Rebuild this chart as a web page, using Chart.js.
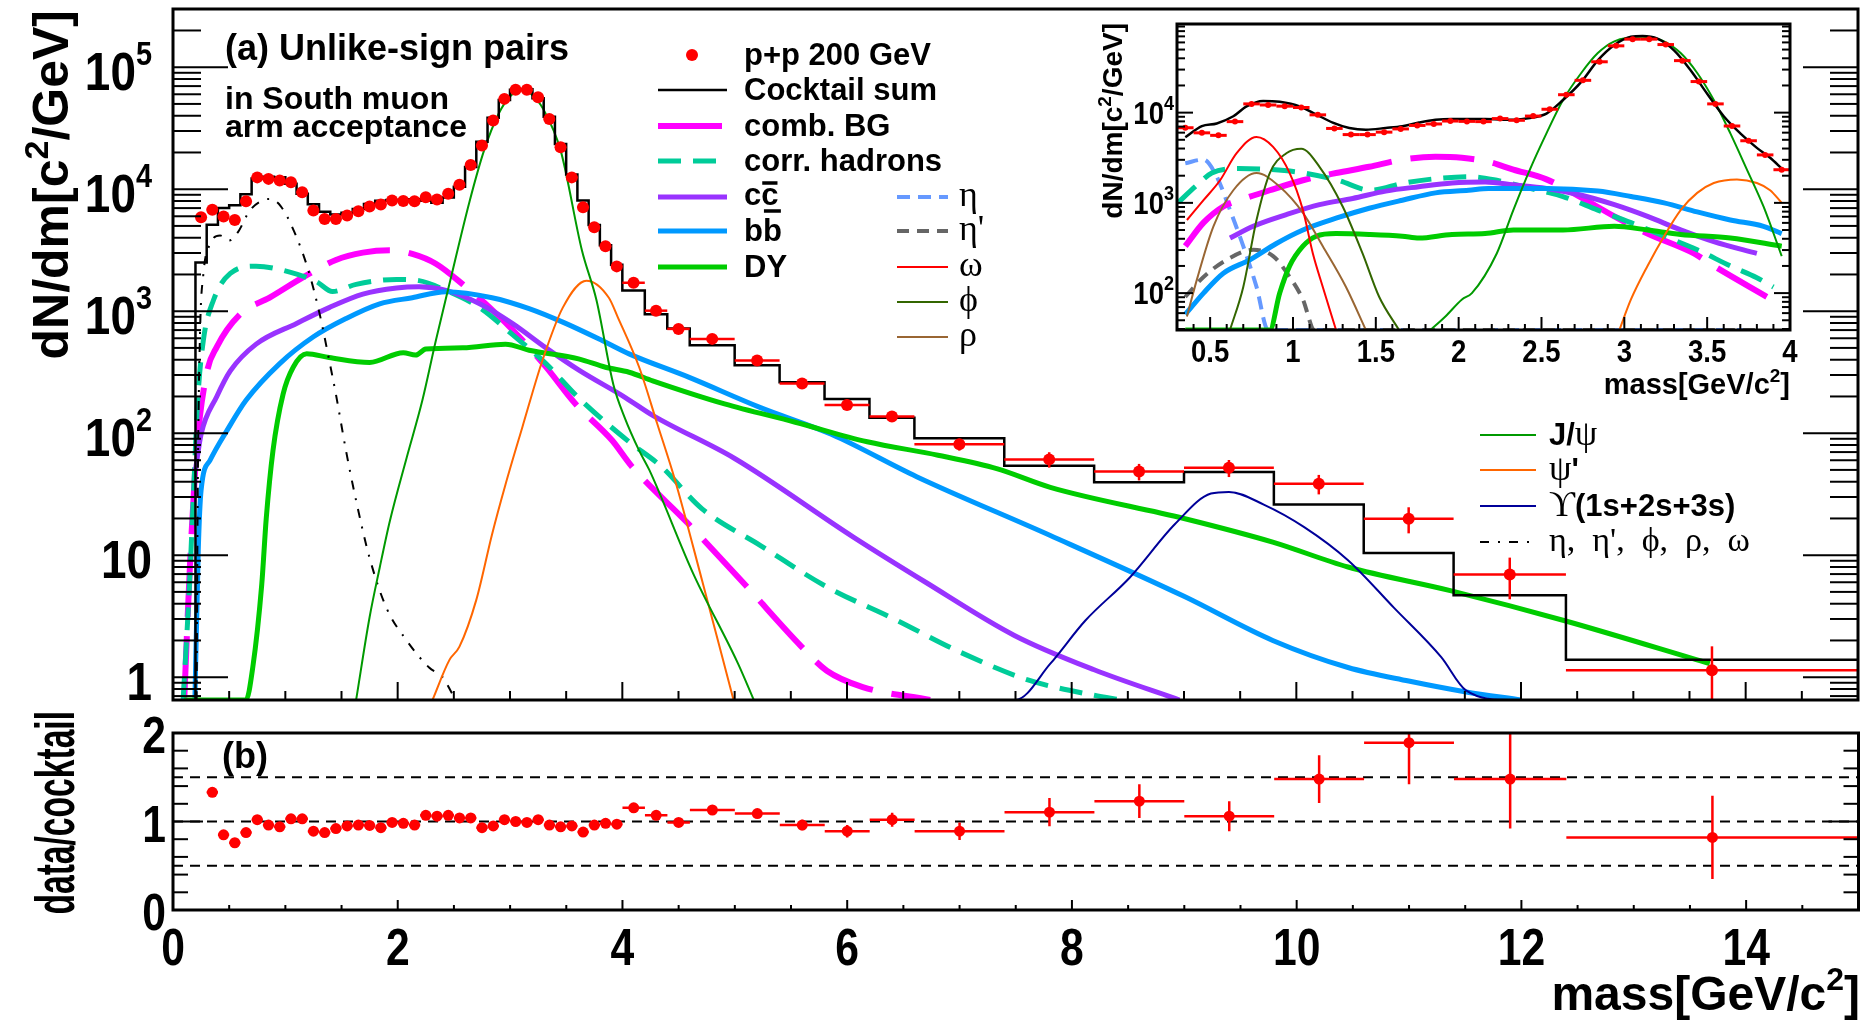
<!DOCTYPE html>
<html>
<head>
<meta charset="utf-8">
<script src="https://cdn.jsdelivr.net/npm/chart.js@4.4.1/dist/chart.umd.min.js"></script>
<style>
  body { margin: 0; background: #fff; }
  canvas { position: absolute; left: 0; top: 0; }
</style>
</head>
<body>
<canvas id="main" width="1864" height="1024"></canvas>
<canvas id="ratio" width="1864" height="1024"></canvas>
<canvas id="inset" width="1864" height="1024"></canvas>
<script>
// Dimuon mass spectrum, p+p 200 GeV, South muon arm, with cocktail and ratio

const SANS = '"Liberation Sans", Arial, sans-serif';
const SERIF = '"Liberation Serif", "DejaVu Serif", serif';
const B = (s) => `bold ${s}px ${SANS}`;
const G = (s) => `${s}px ${SERIF}`;
const RED = "#ff0000";

// measured points: bin centre, half width, yield, error
const dataMass = [0.25, 0.35, 0.45, 0.55, 0.65, 0.75, 0.85, 0.95, 1.05, 1.15, 1.25, 1.35, 1.45, 1.55, 1.65, 1.75, 1.85, 1.95, 2.05, 2.15,
  2.25, 2.35, 2.45, 2.55, 2.65, 2.75, 2.85, 2.95, 3.05, 3.15, 3.25, 3.35, 3.45, 3.55, 3.65, 3.75, 3.85, 3.95,
  4.1, 4.3, 4.5, 4.8, 5.2, 5.6, 6.0, 6.4, 7.0, 7.8, 8.6, 9.4, 10.2, 11.0, 11.9, 13.7];
const dataHalfWidth = [0.05, 0.05, 0.05, 0.05, 0.05, 0.05, 0.05, 0.05, 0.05, 0.05, 0.05, 0.05, 0.05, 0.05, 0.05, 0.05, 0.05, 0.05, 0.05, 0.05,
  0.05, 0.05, 0.05, 0.05, 0.05, 0.05, 0.05, 0.05, 0.05, 0.05, 0.05, 0.05, 0.05, 0.05, 0.05, 0.05, 0.05, 0.05,
  0.1, 0.1, 0.1, 0.2, 0.2, 0.2, 0.2, 0.2, 0.4, 0.4, 0.4, 0.4, 0.4, 0.4, 0.5, 1.3];
const dataYield = [5900, 6800, 5970, 5600, 7950, 12500, 12150, 11800, 11400, 9450, 6680, 5710, 5710, 6080, 6600, 7210, 7490, 8070, 8000, 7950,
  8590, 8220, 9160, 10900, 15800, 22800, 36600, 55000, 65200, 65200, 56800, 37700, 22100, 12500, 7110, 4880, 3400, 2330,
  1710, 1010, 716, 593, 394, 255, 170, 137, 81, 61, 48.5, 52, 38.5, 19.9, 6.95, 1.14];
const dataErr = [120, 130, 120, 110, 150, 220, 210, 200, 200, 170, 120, 100, 100, 110, 120, 130, 130, 140, 140, 140,
  150, 150, 160, 190, 270, 380, 590, 850, 1000, 1000, 880, 600, 360, 210, 130, 100, 80, 60,
  60, 40, 30, 26, 18, 15, 14, 11, 9, 8.8, 7.5, 8.3, 7, 4.8, 2.6, 0.65];

// cocktail sum histogram: bin edges and content
const cocktailEdges = [0.2, 0.3, 0.4, 0.5, 0.6, 0.7, 0.8, 0.9, 1.0, 1.1, 1.2, 1.3, 1.4, 1.5, 1.6, 1.7, 1.8, 1.9, 2.0, 2.1,
  2.2, 2.3, 2.4, 2.5, 2.6, 2.7, 2.8, 2.9, 3.0, 3.1, 3.2, 3.3, 3.4, 3.5, 3.6, 3.7, 3.8, 3.9, 4.0,
  4.2, 4.4, 4.6, 5.0, 5.4, 5.8, 6.2, 6.6, 7.4, 8.2, 9.0, 9.8, 10.6, 11.4, 12.4, 15.0];
const cocktailSum = [2510, 5110, 7020, 7370, 9090, 12250, 12650, 12550, 11070, 9170, 7510, 6530, 6210, 6400, 6880, 7550, 8050, 8150, 8160, 8280,
  8030, 7750, 8560, 10480, 15190, 24500, 38500, 53900, 65200, 65900, 55700, 39300, 23500, 13200, 8080, 5080, 3470, 2400,
  1480, 944, 723, 525, 361, 262, 191, 134, 91, 54, 39.6, 48, 26, 10.4, 4.7, 1.39];

// data / cocktail
const ratioMass = dataMass.slice(1);
const ratioHalfWidth = dataHalfWidth.slice(1);
const ratioVal = [1.33, 0.85, 0.76, 0.875, 1.02, 0.96, 0.94, 1.03, 1.03, 0.89, 0.875, 0.92, 0.95, 0.96, 0.955, 0.93, 0.99, 0.98, 0.96, 1.07,
  1.06, 1.07, 1.04, 1.04, 0.93, 0.95, 1.02, 1.0, 0.99, 1.02, 0.96, 0.94, 0.95, 0.88, 0.96, 0.98, 0.97,
  1.155, 1.07, 0.99, 1.13, 1.09, 0.96, 0.89, 1.02, 0.89, 1.105, 1.23, 1.06, 1.48, 1.89, 1.48, 0.82];
const ratioErr = [0.03, 0.03, 0.03, 0.03, 0.03, 0.03, 0.03, 0.03, 0.03, 0.03, 0.03, 0.03, 0.03, 0.03, 0.03, 0.03, 0.03, 0.03, 0.03, 0.03,
  0.03, 0.03, 0.03, 0.03, 0.03, 0.03, 0.03, 0.03, 0.03, 0.03, 0.03, 0.03, 0.03, 0.03, 0.03, 0.03, 0.03,
  0.04, 0.04, 0.04, 0.05, 0.05, 0.06, 0.07, 0.08, 0.1, 0.16, 0.19, 0.17, 0.27, 0.47, 0.56, 0.47];
const ratioRefLevels = [0.5, 1, 1.5];

// cocktail components, main panel
const combBgMass = [0.1, 0.15, 0.21, 0.3, 0.39, 0.6, 0.86, 1.16, 1.45, 1.69, 1.93, 2.13, 2.34, 2.58, 2.82, 3.08, 3.32, 3.58, 3.91, 4.08, 4.59, 5.11, 5.59, 5.82, 6.14, 6.74];
const combBgVal = [0.65, 7.9, 72, 310, 510, 950, 1290, 1900, 2630, 3020, 3160, 2950, 2450, 1660, 1070, 620, 350, 175, 87, 54, 18, 5.5, 1.8, 1.13, 0.83, 0.65];
const corrHadMass = [0.09, 0.14, 0.18, 0.22, 0.27, 0.36, 0.51, 0.74, 1.04, 1.28, 1.42, 1.63, 1.99, 2.19, 2.43, 2.73, 3.02, 3.32, 3.61, 4.06, 4.34, 4.71, 5.23, 5.82, 6.42, 7.01, 7.61, 8.2, 8.44];
const corrHadVal = [0.65, 4.3, 28, 186, 575, 1230, 2040, 2340, 2090, 1740, 1450, 1660, 1820, 1780, 1480, 1070, 645, 372, 195, 85, 54, 24, 12, 5.5, 3.0, 1.6, 0.95, 0.71, 0.65];
const ccMass = [0.2, 0.25, 0.39, 0.51, 0.74, 1.1, 1.39, 1.69, 1.99, 2.19, 2.43, 2.73, 3.02, 3.32, 3.61, 4.03, 4.27, 5.0, 6.06, 6.7, 7.49, 8.2, 8.96];
const ccVal = [50, 98, 200, 324, 537, 794, 1070, 1380, 1550, 1585, 1480, 1150, 794, 500, 330, 195, 140, 62, 14, 6.0, 2.2, 1.15, 0.65];
const bbMass = [0.195, 0.225, 0.25, 0.33, 0.48, 0.65, 0.95, 1.25, 1.54, 1.84, 2.13, 2.43, 2.84, 3.17, 3.47, 3.82, 4.06, 4.59, 5.23, 5.86, 6.62, 7.81, 9.0, 9.79, 10.46, 11.0, 11.5, 12.0];
const bbVal = [0.65, 11, 34, 60, 105, 186, 372, 617, 871, 1150, 1290, 1445, 1290, 1050, 813, 575, 447, 288, 162, 98, 44, 14.5, 4.6, 2.0, 1.2, 0.93, 0.76, 0.65];
const dyMass = [0.1, 0.65, 0.71, 0.79, 0.83, 0.89, 0.98, 1.07, 1.19, 1.39, 1.75, 2.05, 2.16, 2.25, 2.58, 2.96, 3.17, 3.61, 3.85, 4.06, 4.27, 4.91, 5.54, 6.18, 6.81, 7.34, 7.81, 9.0, 9.79, 10.46, 11.38, 12.39, 13.68];
const dyVal = [0.65, 0.65, 1.2, 5.75, 20, 72, 209, 347, 447, 417, 380, 457, 437, 490, 501, 537, 479, 407, 347, 316, 269, 174, 123, 85, 66, 51, 36, 20, 12.8, 8.0, 5.1, 2.9, 1.29];
const jpsiMass = [1.63, 1.75, 1.84, 1.93, 2.08, 2.22, 2.34, 2.46, 2.64, 2.77, 2.9, 3.0, 3.1, 3.2, 3.3, 3.45, 3.64, 3.77, 3.92, 4.02, 4.15, 4.24, 4.63, 5.03, 5.17];
const jpsiVal = [0.65, 3.1, 7.9, 19, 63, 186, 575, 1660, 7940, 20900, 41700, 57500, 64600, 58900, 44700, 20900, 3160, 1230, 251, 135, 72, 50, 7.1, 1.29, 0.65];
const psi2sMass = [2.31, 2.46, 2.55, 2.7, 2.84, 2.96, 3.11, 3.29, 3.47, 3.68, 3.88, 3.96, 4.15, 4.31, 4.47, 4.71, 4.99];
const psi2sVal = [0.65, 1.38, 1.78, 4.3, 14.8, 38, 112, 398, 1070, 1780, 1290, 891, 347, 120, 41, 6.2, 0.65];
const upsMass = [0.2, 7.5, 7.81, 8.12, 8.52, 8.92, 9.24, 9.4, 9.71, 10.07, 10.46, 10.87, 11.29, 11.51, 11.9, 15];
const upsVal = [0.65, 0.65, 1.29, 2.9, 6.6, 18, 32, 33, 26, 17, 9.1, 3.7, 1.46, 0.78, 0.65, 0.65];
const lightMass = [0.21, 0.22, 0.24, 0.27, 0.33, 0.42, 0.5, 0.58, 0.68, 0.78, 0.86, 0.96, 1.08, 1.2, 1.3, 1.39, 1.45, 1.54, 1.63, 1.75, 1.9, 2.08, 2.28, 2.4, 2.49, 2.52];
const lightVal = [0.65, 32, 631, 2000, 3550, 4170, 3800, 4470, 6610, 7940, 8320, 7240, 4470, 2240, 1000, 398, 209, 72, 28, 9.5, 3.7, 2.0, 1.2, 1.0, 0.72, 0.65];

// inset (0.3 - 4 GeV/c2)
const insetSumMass = [0.35, 0.45, 0.54, 0.64, 0.72, 0.82, 0.92, 1.04, 1.14, 1.24, 1.34, 1.44, 1.56, 1.66, 1.76, 1.86, 1.96, 2.16, 2.33, 2.43, 2.53, 2.63, 2.74, 2.84, 2.94, 3.04, 3.11, 3.2, 3.3, 3.4, 3.5, 3.6, 3.7, 3.8, 3.88, 3.95];
const insetSumVal = [5330, 7080, 7590, 9120, 11750, 13490, 13180, 11750, 9550, 7760, 6760, 6460, 6760, 7080, 7760, 8320, 8510, 8510, 8320, 8710, 9770, 13800, 21900, 38000, 56200, 69200, 70800, 66100, 49000, 29500, 16200, 9120, 5890, 4070, 3160, 2400];
const omegaMass = [0.36, 0.46, 0.56, 0.66, 0.78, 0.88, 0.98, 1.06, 1.12, 1.18, 1.26];
const omegaVal = [646, 1070, 1780, 3550, 5370, 4170, 2140, 832, 275, 117, 39];
const rhoMass = [0.36, 0.42, 0.52, 0.64, 0.78, 0.92, 1.06, 1.18, 1.32, 1.44];
const rhoVal = [55, 141, 550, 1380, 2140, 1510, 776, 331, 117, 39];
const phiMass = [0.62, 0.7, 0.78, 0.86, 0.96, 1.05, 1.16, 1.3, 1.42, 1.52, 1.64];
const phiVal = [39, 117, 646, 2140, 3550, 3980, 2510, 912, 275, 91, 39];
const etaMass = [0.35, 0.46, 0.54, 0.62, 0.7, 0.78, 0.85, 3.8];
const etaVal = [2750, 3020, 1950, 832, 331, 117, 39, 39];
const etaPrimeMass = [0.35, 0.46, 0.6, 0.76, 0.88, 0.98, 1.06, 1.13, 3.8];
const etaPrimeVal = [91, 151, 234, 302, 257, 151, 85, 39, 39];
const insetCombMass = [0.35, 0.46, 0.58, 0.71, 0.86, 1.06, 1.26, 1.46, 1.66, 1.86, 2.02, 2.17, 2.33, 2.53, 2.73, 2.94, 3.14, 3.42, 3.54, 3.86];
const insetCombVal = [331, 603, 912, 1120, 1380, 1780, 2140, 2510, 3020, 3240, 3160, 2880, 2340, 1820, 1175, 708, 457, 275, 200, 91];
const insetCorrMass = [0.31, 0.41, 0.51, 0.67, 0.87, 1.07, 1.27, 1.47, 1.67, 1.87, 2.07, 2.23, 2.43, 2.63, 2.84, 3.04, 3.24, 3.44, 3.64, 3.8, 3.9];
const insetCorrVal = [1020, 1510, 2140, 2400, 2340, 2140, 1780, 1380, 1660, 1860, 1950, 1780, 1450, 1175, 832, 603, 427, 302, 200, 148, 117];
const insetCcMass = [0.62, 0.76, 0.96, 1.16, 1.36, 1.56, 1.76, 1.96, 2.16, 2.33, 2.53, 2.73, 2.94, 3.14, 3.34, 3.54, 3.8];
const insetCcVal = [407, 550, 741, 955, 1120, 1350, 1510, 1660, 1700, 1585, 1445, 1230, 955, 708, 501, 372, 275];
const insetBbMass = [0.35, 0.46, 0.58, 0.74, 0.9, 1.06, 1.26, 1.46, 1.66, 1.86, 2.06, 2.18, 2.33, 2.53, 2.84, 3.04, 3.24, 3.44, 3.64, 3.84, 3.95];
const insetBbVal = [58, 100, 166, 234, 355, 501, 676, 871, 1070, 1290, 1380, 1445, 1445, 1445, 1350, 1175, 1000, 794, 646, 550, 457];
const insetDyMass = [0.35, 0.75, 0.86, 0.92, 0.98, 1.06, 1.14, 1.26, 1.46, 1.66, 1.76, 1.96, 2.16, 2.33, 2.63, 2.94, 3.14, 3.34, 3.64, 3.95];
const insetDyVal = [39, 39, 39, 100, 200, 331, 427, 457, 447, 427, 407, 447, 457, 501, 501, 550, 501, 447, 407, 331];
const insetJpsiMass = [1.83, 1.92, 2.02, 2.08, 2.23, 2.33, 2.43, 2.53, 2.63, 2.74, 2.84, 2.94, 3.11, 3.24, 3.34, 3.44, 3.54, 3.64, 3.74, 3.84, 3.95];
const insetJpsiVal = [39, 55, 85, 100, 275, 832, 2340, 5890, 13800, 27500, 45700, 61700, 69200, 61700, 45700, 27500, 13800, 5890, 2340, 912, 257];
const insetPsi2sMass = [2.97, 3.04, 3.14, 3.24, 3.34, 3.44, 3.54, 3.68, 3.8, 3.88, 3.95];
const insetPsi2sVal = [39, 85, 200, 427, 832, 1290, 1660, 1820, 1660, 1380, 1000];
const insetUpsMass = [0.3, 4.0];
const insetUpsVal = [39, 39];

// axis ticks with labels
const mainYTicks = [1, 10, 100, 1000, 10000, 100000];
const ratioYTicks = [0, 1, 2];
const massTicks = [0, 2, 4, 6, 8, 10, 12, 14];
const insetXTicks = [0.5, 1, 1.5, 2, 2.5, 3, 3.5, 4];
const insetYTicks = [100, 1000, 10000];

const STYLE = {
  sum: { color: "#000000", width: 2.5 },
  comb: { color: "#ff00ff", width: 6, dash: [64, 19] },
  corr: { color: "#00cc99", width: 5, dash: [23, 12] },
  cc: { color: "#9933ff", width: 5 },
  bb: { color: "#0099ff", width: 5 },
  dy: { color: "#00cc00", width: 5 },
  jpsi: { color: "#009900", width: 2 },
  psi2s: { color: "#ff6600", width: 2 },
  ups: { color: "#000099", width: 2 },
  light: { color: "#000000", width: 2, dash: [9, 9, 2, 9] },
  eta: { color: "#6699ff", width: 4, dash: [13, 8] },
  etap: { color: "#666666", width: 4, dash: [12, 8] },
  omega: { color: "#ff0000", width: 2 },
  phi: { color: "#336600", width: 2 },
  rho: { color: "#996633", width: 2 },
};

const pts = (xs, ys) => xs.map((x, i) => ({ x, y: ys[i] }));

const curve = (label, xs, ys, st) => ({
  label,
  data: pts(xs, ys),
  borderColor: st.color,
  borderWidth: st.width,
  borderDash: st.dash || [],
  borderCapStyle: "butt",
  pointRadius: 0,
  fill: false,
  cubicInterpolationMode: "monotone",
});

const points = (label, xs, ys, ex, ey, r, bw) => ({
  label,
  data: pts(xs, ys),
  showLine: false,
  pointRadius: r,
  pointBackgroundColor: RED,
  pointBorderWidth: 0,
  errX: ex,
  errY: ey,
  barWidth: bw,
});

// ---------- drawing helpers ----------
function seg(ctx, x0, y0, x1, y1) {
  ctx.beginPath();
  ctx.moveTo(x0, y0);
  ctx.lineTo(x1, y1);
  ctx.stroke();
}

// pieces: [text, font, rise]; sx squeezes the text horizontally
function runs(ctx, parts, x, y, align, sx = 1) {
  let w = 0;
  parts.forEach((p) => { ctx.font = p[1]; w += ctx.measureText(p[0]).width * sx; });
  let cx = align === "right" ? x - w : align === "center" ? x - w / 2 : x;
  ctx.textAlign = "left";
  ctx.textBaseline = "alphabetic";
  ctx.fillStyle = "#000";
  parts.forEach((p) => {
    ctx.font = p[1];
    ctx.save();
    ctx.translate(cx, y - (p[2] || 0));
    ctx.scale(sx, 1);
    ctx.fillText(p[0], 0, 0);
    ctx.restore();
    cx += ctx.measureText(p[0]).width * sx;
  });
}

function vtitle(ctx, parts, x, yTop, sx = 1) {
  ctx.save();
  ctx.translate(x, yTop);
  ctx.rotate(-Math.PI / 2);
  runs(ctx, parts, 0, 0, "right", sx);
  ctx.restore();
}

function logTicks(ctx, scale, a, major, minor) {
  const lo = Math.floor(Math.log10(scale.min));
  const hi = Math.ceil(Math.log10(scale.max));
  for (let e = lo; e <= hi; e++) {
    for (let k = 1; k <= 9; k++) {
      const v = k * Math.pow(10, e);
      if (v < scale.min || v > scale.max) continue;
      const py = scale.getPixelForValue(v);
      const len = k === 1 ? major : minor;
      seg(ctx, a.left, py, a.left + len, py);
      seg(ctx, a.right, py, a.right - len, py);
    }
  }
}

function linTicksX(ctx, scale, a, step, majorEvery, major, minor) {
  const n = Math.round((scale.max - scale.min) / step);
  for (let i = 1; i < n; i++) {
    const v = scale.min + i * step;
    const isMajor = Math.abs(v / majorEvery - Math.round(v / majorEvery)) < 1e-6;
    const px = scale.getPixelForValue(v);
    seg(ctx, px, a.bottom, px, a.bottom - (isMajor ? major : minor));
  }
}

function linTicksY(ctx, scale, a, step, majorEvery, major, minor) {
  const n = Math.round((scale.max - scale.min) / step);
  for (let i = 1; i < n; i++) {
    const v = scale.min + i * step;
    const isMajor = Math.abs(v / majorEvery - Math.round(v / majorEvery)) < 1e-6;
    const py = scale.getPixelForValue(v);
    const len = isMajor ? major : minor;
    seg(ctx, a.left, py, a.left + len, py);
    seg(ctx, a.right, py, a.right - len, py);
  }
}

function legendLine(ctx, st, x0, x1, y, solid) {
  ctx.save();
  ctx.strokeStyle = st.color;
  ctx.lineWidth = st.width;
  ctx.setLineDash(solid ? [] : st.dash || []);
  seg(ctx, x0, y, x1, y);
  ctx.restore();
}

function overlined(ctx, a, b, x, y, font, barY) {
  runs(ctx, [[a + b, font]], x, y, "left");
  ctx.font = font;
  const wa = ctx.measureText(a).width;
  const wb = ctx.measureText(b).width;
  ctx.save();
  ctx.lineWidth = 3.5;
  ctx.strokeStyle = "#000";
  seg(ctx, x + wa + 1, barY, x + wa + wb - 1, barY);
  ctx.restore();
}

// error bars drawn just below the markers of a point dataset
const errorBars = {
  id: "errorBars",
  beforeDatasetDraw(chart, args) {
    const ds = chart.data.datasets[args.index];
    if (!ds.errX) return;
    const { ctx, chartArea: a, scales: { x, y } } = chart;
    const floor = y.type === "logarithmic" ? y.min * 0.1 : y.min - 1;
    ctx.save();
    ctx.beginPath();
    ctx.rect(a.left, a.top, a.width, a.height);
    ctx.clip();
    ctx.strokeStyle = RED;
    ctx.lineWidth = ds.barWidth;
    ds.data.forEach((p, i) => {
      const px = x.getPixelForValue(p.x);
      const py = y.getPixelForValue(p.y);
      seg(ctx, x.getPixelForValue(p.x - ds.errX[i]), py, x.getPixelForValue(p.x + ds.errX[i]), py);
      if (ds.errY) {
        const lo = Math.max(p.y - ds.errY[i], floor);
        seg(ctx, px, y.getPixelForValue(lo), px, y.getPixelForValue(p.y + ds.errY[i]));
      }
    });
    ctx.restore();
  },
};

const baseOptions = (xMin, xMax, yType, yMin, yMax, padding) => ({
  responsive: false,
  animation: false,
  events: [],
  layout: { padding },
  plugins: { legend: { display: false }, tooltip: { enabled: false } },
  scales: {
    x: { type: "linear", min: xMin, max: xMax, display: false },
    y: { type: yType, min: yMin, max: yMax, display: false },
  },
});

// ---------- main panel ----------
const stepPoints = [{ x: cocktailEdges[0], y: 0.3 }];
cocktailSum.forEach((v, i) => {
  stepPoints.push({ x: cocktailEdges[i], y: v }, { x: cocktailEdges[i + 1], y: v });
});

const mainDecor = {
  id: "mainDecor",
  afterDraw(chart) {
    const { ctx, chartArea: a, scales: { x, y } } = chart;
    ctx.save();
    ctx.strokeStyle = "#000";
    ctx.lineWidth = 3;
    ctx.strokeRect(a.left, a.top, a.width, a.height);
    ctx.lineWidth = 2;
    logTicks(ctx, y, a, 55, 28);
    linTicksX(ctx, x, a, 0.5, 2, 18, 9);

    mainYTicks.forEach((v) => {
      const e = Math.round(Math.log10(v));
      const base = y.getPixelForValue(v) + 23;
      const parts = e < 2 ? [[String(v), B(54)]] : [["10", B(54)], [String(e), B(34), 25]];
      runs(ctx, parts, 152, base, "right", 0.85);
    });
    vtitle(ctx, [["dN/dm[c", B(50)], ["2", B(34), 20], ["/GeV]", B(50)]], 68, 10);

    runs(ctx, [["(a) Unlike-sign pairs", B(36)]], 225, 60, "left");
    runs(ctx, [["in South muon", B(32)]], 225, 109, "left");
    runs(ctx, [["arm acceptance", B(32)]], 225, 137, "left");

    // legend, first column
    ctx.fillStyle = RED;
    ctx.beginPath();
    ctx.arc(692, 55, 6, 0, 2 * Math.PI);
    ctx.fill();
    runs(ctx, [["p+p 200 GeV", B(31)]], 744, 65, "left");
    legendLine(ctx, STYLE.sum, 658, 727, 90);
    runs(ctx, [["Cocktail sum", B(31)]], 744, 100, "left");
    legendLine(ctx, STYLE.comb, 658, 722, 126, true);
    runs(ctx, [["comb. BG", B(31)]], 744, 136, "left");
    legendLine(ctx, STYLE.corr, 658, 727, 161);
    runs(ctx, [["corr. hadrons", B(31)]], 744, 171, "left");
    legendLine(ctx, STYLE.cc, 658, 727, 197);
    overlined(ctx, "c", "c", 744, 205, B(31), 183);
    legendLine(ctx, STYLE.bb, 658, 727, 231);
    overlined(ctx, "b", "b", 744, 241, B(31), 211);
    legendLine(ctx, STYLE.dy, 658, 727, 267);
    runs(ctx, [["DY", B(31)]], 744, 277, "left");

    // legend, second column
    const greek = [["η", STYLE.eta, 197], ["η'", STYLE.etap, 231], ["ω", STYLE.omega, 267], ["ϕ", STYLE.phi, 302], ["ρ", STYLE.rho, 337]];
    greek.forEach(([t, st, ly]) => {
      legendLine(ctx, st, 897, 948, ly);
      runs(ctx, [[t, G(36)]], 959, ly + 9, "left");
    });

    // legend, lower right
    legendLine(ctx, STYLE.jpsi, 1480, 1536, 435);
    runs(ctx, [["J/", B(31)], ["ψ", G(36)]], 1549, 445, "left");
    legendLine(ctx, STYLE.psi2s, 1480, 1536, 470);
    runs(ctx, [["ψ", G(36)], ["'", B(31)]], 1549, 480, "left");
    legendLine(ctx, STYLE.ups, 1480, 1536, 506);
    runs(ctx, [["ϒ", G(36)], ["(1s+2s+3s)", B(31)]], 1549, 516, "left");
    legendLine(ctx, STYLE.light, 1480, 1536, 542);
    runs(ctx, [["η,  η',  ϕ,  ρ,  ω", G(34)]], 1549, 551, "left");
    ctx.restore();
  },
};

new Chart(document.getElementById("main"), {
  type: "line",
  data: {
    datasets: [
      points("p+p 200 GeV", dataMass, dataYield, dataHalfWidth, dataErr, 6, 2.5),
      { label: "Cocktail sum", data: stepPoints, borderColor: STYLE.sum.color, borderWidth: STYLE.sum.width, pointRadius: 0, tension: 0, fill: false },
      curve("J/psi", jpsiMass, jpsiVal, STYLE.jpsi),
      curve("psi'", psi2sMass, psi2sVal, STYLE.psi2s),
      curve("Upsilon", upsMass, upsVal, STYLE.ups),
      curve("light hadrons", lightMass, lightVal, STYLE.light),
      curve("DY", dyMass, dyVal, STYLE.dy),
      curve("bb", bbMass, bbVal, STYLE.bb),
      curve("cc", ccMass, ccVal, STYLE.cc),
      curve("corr. hadrons", corrHadMass, corrHadVal, STYLE.corr),
      curve("comb. BG", combBgMass, combBgVal, STYLE.comb),
    ],
  },
  options: baseOptions(0, 15, "logarithmic", 0.65, 3e5, { left: 173, right: 2, top: 9, bottom: 324 }),
  plugins: [errorBars, mainDecor],
});

// ---------- ratio panel ----------
const ratioDecor = {
  id: "ratioDecor",
  afterDraw(chart) {
    const { ctx, chartArea: a, scales: { x, y } } = chart;
    ctx.save();
    ctx.strokeStyle = "#000";
    ctx.lineWidth = 3;
    ctx.strokeRect(a.left, a.top, a.width, a.height);
    ctx.lineWidth = 2;
    linTicksY(ctx, y, a, 0.2, 1, 30, 15);
    linTicksX(ctx, x, a, 0.5, 2, 10, 5);
    ratioYTicks.forEach((v) => runs(ctx, [[String(v), B(52)]], 166, y.getPixelForValue(v) + 20, "right", 0.82));
    massTicks.forEach((v) => runs(ctx, [[String(v), B(52)]], x.getPixelForValue(v), 965, "center", 0.82));
    vtitle(ctx, [["data/cocktail", B(56)]], 74, 711, 0.6);
    runs(ctx, [["mass[GeV/c", B(48)], ["2", B(32), 20], ["]", B(48)]], 1860, 1010, "right");
    runs(ctx, [["(b)", B(36)]], 222, 768, "left");
    ctx.restore();
  },
};

new Chart(document.getElementById("ratio"), {
  type: "line",
  data: {
    datasets: [
      points("data/cocktail", ratioMass, ratioVal, ratioHalfWidth, ratioErr, 5.5, 2.5),
      ...ratioRefLevels.map((lv) => ({
        label: "ref " + lv,
        data: [{ x: 0, y: lv }, { x: 15, y: lv }],
        borderColor: "#000",
        borderWidth: 2,
        borderDash: [10, 7],
        pointRadius: 0,
        fill: false,
      })),
    ],
  },
  options: baseOptions(0, 15, "linear", 0, 2, { left: 173, right: 2, top: 733, bottom: 114 }),
  plugins: [errorBars, ratioDecor],
});

// ---------- inset ----------
const inInset = (m) => m > 0.3 && m < 4;
const insetMass = dataMass.filter(inInset);
const insetYield = dataYield.filter((_, i) => inInset(dataMass[i]));
const insetHalfWidth = dataHalfWidth.filter((_, i) => inInset(dataMass[i]));

const insetDecor = {
  id: "insetDecor",
  afterDraw(chart) {
    const { ctx, chartArea: a, scales: { x, y } } = chart;
    ctx.save();
    ctx.strokeStyle = "#000";
    ctx.lineWidth = 3;
    ctx.strokeRect(a.left, a.top, a.width, a.height);
    ctx.lineWidth = 2;
    logTicks(ctx, y, a, 16, 8);
    linTicksX(ctx, x, a, 0.1, 0.5, 13, 6);
    insetXTicks.forEach((v) => runs(ctx, [[String(v), B(32)]], x.getPixelForValue(v), 362, "center", 0.86));
    insetYTicks.forEach((v) => {
      const e = Math.round(Math.log10(v));
      runs(ctx, [["10", B(32)], [String(e), B(21), 14]], 1174, y.getPixelForValue(v) + 11, "right", 0.86);
    });
    vtitle(ctx, [["dN/dm[c", B(28)], ["2", B(19), 11], ["/GeV]", B(28)]], 1122, 23);
    runs(ctx, [["mass[GeV/c", B(29)], ["2", B(19), 12], ["]", B(29)]], 1790, 394, "right");
    ctx.restore();
  },
};

new Chart(document.getElementById("inset"), {
  type: "line",
  data: {
    datasets: [
      points("p+p 200 GeV", insetMass, insetYield, insetHalfWidth, null, 3, 3),
      curve("Cocktail sum", insetSumMass, insetSumVal, STYLE.sum),
      curve("J/psi", insetJpsiMass, insetJpsiVal, STYLE.jpsi),
      curve("psi'", insetPsi2sMass, insetPsi2sVal, STYLE.psi2s),
      curve("omega", omegaMass, omegaVal, STYLE.omega),
      curve("phi", phiMass, phiVal, STYLE.phi),
      curve("rho", rhoMass, rhoVal, STYLE.rho),
      curve("DY", insetDyMass, insetDyVal, STYLE.dy),
      curve("bb", insetBbMass, insetBbVal, STYLE.bb),
      curve("cc", insetCcMass, insetCcVal, STYLE.cc),
      curve("corr. hadrons", insetCorrMass, insetCorrVal, STYLE.corr),
      curve("comb. BG", insetCombMass, insetCombVal, STYLE.comb),
      curve("eta'", etaPrimeMass, etaPrimeVal, STYLE.etap),
      curve("eta", etaMass, etaVal, STYLE.eta),
      curve("Upsilon", insetUpsMass, insetUpsVal, STYLE.ups),
    ],
  },
  options: baseOptions(0.3, 4.0, "logarithmic", 39, 96000, { left: 1177, right: 74, top: 24, bottom: 694 }),
  plugins: [errorBars, insetDecor],
});
</script>
</body>
</html>
